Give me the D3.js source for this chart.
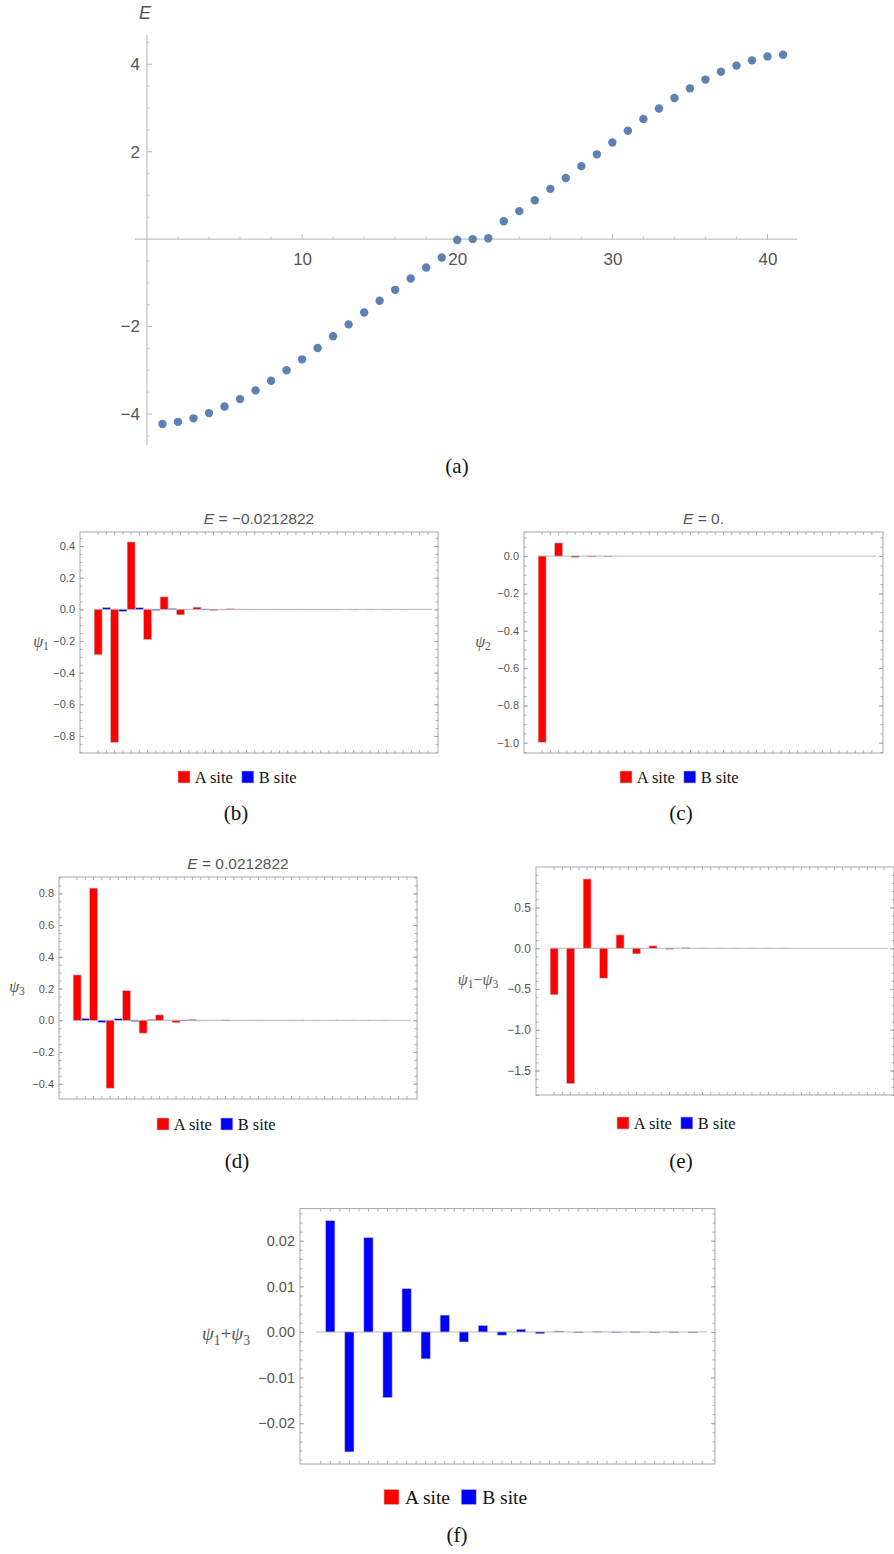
<!DOCTYPE html>
<html>
<head>
<meta charset="utf-8">
<script src="https://cdn.jsdelivr.net/npm/d3@7"></script>
<style>
  body { margin: 0; background: #fff; }
  svg { display: block; }
</style>
</head>
<body>
<svg id="fig" width="894" height="1554"></svg>
<script>
// ---- Spectrum of the 41-site chain (level index -> energy) ----
const levelIndex = [1,2,3,4,5,6,7,8,9,10,11,12,13,14,15,16,17,18,19,20,21,22,23,24,25,26,27,28,29,30,31,32,33,34,35,36,37,38,39,40,41];
const energies = [-4.23, -4.18, -4.10, -3.98, -3.83, -3.66, -3.46, -3.24, -3.00, -2.75,
                  -2.49, -2.22, -1.95, -1.68, -1.41, -1.16, -0.90, -0.65, -0.42, -0.0213,
                  0.0, 0.0213, 0.41, 0.64, 0.89, 1.15, 1.40, 1.67, 1.94, 2.21,
                  2.48, 2.75, 2.99, 3.23, 3.45, 3.65, 3.83, 3.97, 4.09, 4.18, 4.22];
const energyTicksX = [10, 20, 30, 40];
const energyTicksY = [-4, -2, 2, 4];

// ---- Zero-mode amplitudes: 21 A sites, 20 B sites ----
const psi1A = [-0.287, -0.841, 0.426, -0.190, 0.079, -0.035, 0.014, -0.007, 0.003, -0.0014, 0.0006,
               -0.0003, 0.0001, -0.00006, 0.00003, 0, 0, 0, 0, 0, 0];
const psi1B = [0.0122, -0.0132, 0.0104, -0.0072, 0.0047, -0.0029, 0.0019, -0.0011, 0.0007, -0.0004,
               0.0003, -0.0002, 0.0001, -0.00007, 0.00005, -0.00003, 0.00002, -0.00001, 0.00001, 0];
const psi2A = [-0.9975, 0.0705, -0.0066, 0.0006, -0.00005, 0, 0, 0, 0, 0, 0,
               0, 0, 0, 0, 0, 0, 0, 0, 0, 0];
const psi2B = [0, 0, 0, 0, 0, 0, 0, 0, 0, 0, 0, 0, 0, 0, 0, 0, 0, 0, 0, 0];
const psi3A = [0.286, 0.833, -0.428, 0.187, -0.081, 0.034, -0.015, 0.006, -0.003, 0.0013, -0.0005,
               0.0002, -0.0001, 0.00005, 0, 0, 0, 0, 0, 0, 0];
const psi3B = [0.0121, -0.0133, 0.0103, -0.0072, 0.0048, -0.0030, 0.0018, -0.0011, 0.0007, -0.0004,
               0.0003, -0.0002, 0.0001, -0.00008, 0.00005, -0.00003, 0.00002, -0.00001, 0.00001, 0];
const diffA = [-0.571, -1.661, 0.849, -0.367, 0.163, -0.069, 0.029, -0.012, 0.006, -0.0026, 0.0011,
               -0.0005, 0.0002, -0.0001, 0.00005, 0, 0, 0, 0, 0, 0];
const diffB = [0.0001, -0.0001, 0.0001, 0, 0, 0, 0, 0, 0, 0, 0, 0, 0, 0, 0, 0, 0, 0, 0, 0];
const sumA  = [0, 0, 0, 0, 0, 0, 0, 0, 0, 0, 0, 0, 0, 0, 0, 0, 0, 0, 0, 0, 0];
const sumB  = [0.0244, -0.0263, 0.0207, -0.0144, 0.0095, -0.0059, 0.0037, -0.0022, 0.0014, -0.0007,
               0.0006, -0.0004, 0.0002, -0.00015, 0.0001, -0.00005, 0.00004, -0.00002, 0.00002, -0.00001];

const siteNames = ["A site", "B site"];
const siteColors = ["#ff0000", "#0000ff"];

const SANS = "'Liberation Sans', Arial, sans-serif";
const SERIF = "'Liberation Serif', 'Times New Roman', serif";
const TEXT_GRAY = "#555";
const AXIS_GRAY = "#a8a8a8";

const svg = d3.select("#fig");

// ---------------- (a) energy spectrum ----------------
(function spectrum() {
  const g = svg.append("g");
  const x = d3.scaleLinear().domain([-0.77, 41.9]).range([135, 797]);
  const y = d3.scaleLinear().domain([-4.71, 4.67]).range([445, 35]);

  // minor ticks
  const xMinor = d3.range(2, 42, 2).filter(v => v % 10 !== 0);
  const yMinor = d3.range(-4.5, 4.6, 0.5).filter(v => Math.abs(v % 2) > 1e-6);

  const xAxis = g.append("g").attr("transform", `translate(0,${y(0)})`)
    .call(d3.axisBottom(x).tickValues(energyTicksX).tickSize(0).tickPadding(14)
      .tickFormat(d3.format("d")));
  xAxis.select(".domain").remove();
  xAxis.selectAll("text").attr("font-family", SANS).attr("font-size", 17).attr("fill", TEXT_GRAY);

  const yAxis = g.append("g").attr("transform", `translate(${x(0)},0)`)
    .call(d3.axisLeft(y).tickValues(energyTicksY).tickSize(0).tickPadding(7)
      .tickFormat(d3.format("d")));
  yAxis.select(".domain").remove();
  yAxis.selectAll("text").attr("font-family", SANS).attr("font-size", 17).attr("fill", TEXT_GRAY);

  // axis lines
  g.append("line").attr("x1", 135).attr("x2", 797).attr("y1", y(0)).attr("y2", y(0))
    .attr("stroke", "#b5b5b5").attr("stroke-width", 1);
  g.append("line").attr("x1", x(0)).attr("x2", x(0)).attr("y1", 35).attr("y2", 445)
    .attr("stroke", "#b5b5b5").attr("stroke-width", 1);

  // ticks on the axes
  g.selectAll(".xmaj").data(energyTicksX).join("line")
    .attr("x1", d => x(d)).attr("x2", d => x(d)).attr("y1", y(0)).attr("y2", y(0) - 5)
    .attr("stroke", "#b5b5b5");
  g.selectAll(".xmin").data(xMinor).join("line")
    .attr("x1", d => x(d)).attr("x2", d => x(d)).attr("y1", y(0)).attr("y2", y(0) - 2.5)
    .attr("stroke", "#c5c5c5");
  g.selectAll(".ymaj").data(energyTicksY).join("line")
    .attr("x1", x(0)).attr("x2", x(0) + 5).attr("y1", d => y(d)).attr("y2", d => y(d))
    .attr("stroke", "#b5b5b5");
  g.selectAll(".ymin").data(yMinor).join("line")
    .attr("x1", x(0)).attr("x2", x(0) + 2.5).attr("y1", d => y(d)).attr("y2", d => y(d))
    .attr("stroke", "#c5c5c5");

  g.append("text").attr("x", x(0) - 2).attr("y", 19).attr("text-anchor", "middle")
    .attr("font-family", SANS).attr("font-style", "italic").attr("font-size", 18)
    .attr("fill", TEXT_GRAY).text("E");

  g.selectAll("circle").data(levelIndex).join("circle")
    .attr("cx", d => x(d)).attr("cy", (d, i) => y(energies[i])).attr("r", 4.2)
    .attr("fill", "#5e81b5");
})();

// ---------------- bar panels ----------------
function addPsiLabel(g, parts, x, y, size) {
  // parts: array of [text, isSubscript]
  const t = g.append("text").attr("x", x).attr("y", y).attr("text-anchor", "middle")
    .attr("dominant-baseline", "middle")
    .attr("font-family", SERIF).attr("font-size", size).attr("fill", TEXT_GRAY);
  let wasSub = false;
  parts.forEach(([s, sub]) => {
    const ts = t.append("tspan").text(s);
    if (sub) {
      ts.attr("font-size", size * 0.72).attr("dy", size * 0.28);
    } else {
      ts.attr("font-style", s === "ψ" ? "italic" : "normal").attr("dy", wasSub ? -size * 0.28 : 0);
    }
    wasSub = sub;
  });
}

function barPanel(p) {
  const g = svg.append("g");
  const f = p.frame;

  // interleave A and B sites along the chain
  const sites = [];
  for (let k = 0; k < p.a.length + p.b.length; k++) {
    const isA = k % 2 === 0;
    sites.push({ k, type: isA ? 0 : 1, v: isA ? p.a[k / 2] : p.b[(k - 1) / 2] });
  }

  const x = d3.scaleBand().domain(sites.map(d => d.k)).range(p.bars).padding(0);
  const y = d3.scaleLinear().domain(p.yDomain).range([f.y1, f.y0]);

  // frame
  g.append("rect").attr("x", f.x0).attr("y", f.y0)
    .attr("width", f.x1 - f.x0).attr("height", f.y1 - f.y0)
    .attr("fill", "none").attr("stroke", AXIS_GRAY).attr("stroke-width", 1);

  const styleTicks = sel => {
    sel.select(".domain").remove();
    sel.selectAll("line").attr("stroke", "#9a9a9a").attr("stroke-width", 0.8);
  };

  // left: labelled major ticks + minor ticks
  const left = g.append("g").attr("transform", `translate(${f.x0},0)`)
    .call(d3.axisLeft(y).tickValues(p.ticks).tickSizeInner(-4).tickSizeOuter(0)
      .tickPadding(5).tickFormat(d3.format(p.fmt)));
  styleTicks(left);
  left.selectAll("text").attr("font-family", SANS).attr("font-size", p.tickFont).attr("fill", TEXT_GRAY);
  const leftMinor = g.append("g").attr("transform", `translate(${f.x0},0)`)
    .call(d3.axisLeft(y).tickValues(p.minor).tickSizeInner(-2.5).tickSizeOuter(0).tickFormat(""));
  styleTicks(leftMinor);

  // right frame ticks
  const right = g.append("g").attr("transform", `translate(${f.x1},0)`)
    .call(d3.axisRight(y).tickValues(p.ticks).tickSizeInner(-4).tickSizeOuter(0).tickFormat(""));
  styleTicks(right);
  const rightMinor = g.append("g").attr("transform", `translate(${f.x1},0)`)
    .call(d3.axisRight(y).tickValues(p.minor).tickSizeInner(-2.5).tickSizeOuter(0).tickFormat(""));
  styleTicks(rightMinor);

  // top and bottom ticks at every site
  const bottom = g.append("g").attr("transform", `translate(0,${f.y1})`)
    .call(d3.axisBottom(x).tickSizeInner(-3).tickSizeOuter(0).tickFormat(""));
  styleTicks(bottom);
  const top = g.append("g").attr("transform", `translate(0,${f.y0})`)
    .call(d3.axisTop(x).tickSizeInner(-3).tickSizeOuter(0).tickFormat(""));
  styleTicks(top);

  // zero baseline
  g.append("line").attr("x1", p.bars[0]).attr("x2", p.bars[1])
    .attr("y1", y(0)).attr("y2", y(0)).attr("stroke", "#b9b9b9").attr("stroke-width", 1);

  // bars
  g.selectAll(".bar").data(sites.filter(d => d.v !== 0)).join("rect")
    .attr("x", d => x(d.k) + 0.15)
    .attr("width", x.bandwidth() - 0.3)
    .attr("y", d => Math.min(y(d.v), y(0)))
    .attr("height", d => Math.max(Math.abs(y(d.v) - y(0)), 0.6))
    .attr("fill", d => siteColors[d.type])
    .attr("stroke", "#c4c4c4").attr("stroke-width", 0.6);

  // title
  if (p.title) {
    const t = g.append("text").attr("x", (f.x0 + f.x1) / 2).attr("y", f.y0 - 8)
      .attr("text-anchor", "middle").attr("font-family", SANS).attr("font-size", 15.5)
      .attr("fill", TEXT_GRAY);
    t.append("tspan").attr("font-style", "italic").text("E");
    t.append("tspan").text(" = " + p.title);
  }

  // axis label
  addPsiLabel(g, p.label, p.labelX, (f.y0 + f.y1) / 2, p.labelFont);

  // legend
  const lg = g.append("g").attr("transform", `translate(${p.legend[0]},${p.legend[1]})`);
  const s = p.legendSize;
  let cx = 0;
  siteNames.forEach((name, i) => {
    lg.append("rect").attr("x", cx).attr("y", -s / 2).attr("width", s).attr("height", s)
      .attr("fill", siteColors[i]).attr("stroke", "#c4c4c4").attr("stroke-width", 0.6);
    const txt = lg.append("text").attr("x", cx + s + s * 0.4).attr("y", 0)
      .attr("dominant-baseline", "central")
      .attr("font-family", SERIF).attr("font-size", p.legendFont).attr("fill", "#111").text(name);
    cx += s + s * 0.4 + txt.node().getComputedTextLength() + s * 0.75;
  });
}

const psi = n => [["ψ", false], [String(n), true]];

barPanel({
  frame: { x0: 80, x1: 438, y0: 532, y1: 753 }, bars: [94, 432],
  yDomain: [-0.908, 0.489], ticks: [-0.8, -0.6, -0.4, -0.2, 0, 0.2, 0.4],
  minor: d3.range(-0.9, 0.5, 0.05), fmt: ".1f", tickFont: 11,
  a: psi1A, b: psi1B, title: "\u22120.0212822",
  label: psi(1), labelX: 41, labelFont: 16,
  legend: [178, 777], legendSize: 12, legendFont: 16.5
});
barPanel({
  frame: { x0: 524, x1: 883, y0: 532, y1: 753 }, bars: [538, 876],
  yDomain: [-1.055, 0.129], ticks: [-1.0, -0.8, -0.6, -0.4, -0.2, 0],
  minor: d3.range(-1.05, 0.13, 0.05), fmt: ".1f", tickFont: 11,
  a: psi2A, b: psi2B, title: "0.",
  label: psi(2), labelX: 483, labelFont: 16,
  legend: [620, 777], legendSize: 12, legendFont: 16.5
});
barPanel({
  frame: { x0: 59, x1: 417, y0: 877, y1: 1099 }, bars: [73, 411],
  yDomain: [-0.496, 0.903], ticks: [-0.4, -0.2, 0, 0.2, 0.4, 0.6, 0.8],
  minor: d3.range(-0.45, 0.91, 0.05), fmt: ".1f", tickFont: 11,
  a: psi3A, b: psi3B, title: "0.0212822",
  label: psi(3), labelX: 17, labelFont: 16,
  legend: [157, 1124], legendSize: 12, legendFont: 16.5
});
barPanel({
  frame: { x0: 536, x1: 894, y0: 867, y1: 1095 }, bars: [550, 888],
  yDomain: [-1.80, 0.996], ticks: [-1.5, -1.0, -0.5, 0, 0.5],
  minor: d3.range(-1.8, 1.0, 0.1), fmt: ".1f", tickFont: 12,
  a: diffA, b: diffB, title: null,
  label: [["ψ", false], ["1", true], ["\u2212", false], ["ψ", false], ["3", true]],
  labelX: 478, labelFont: 16,
  legend: [617, 1123], legendSize: 12, legendFont: 16.5
});
barPanel({
  frame: { x0: 300, x1: 715, y0: 1208.6, y1: 1464 }, bars: [316, 707],
  yDomain: [-0.02895, 0.02705], ticks: [-0.02, -0.01, 0, 0.01, 0.02],
  minor: d3.range(-0.028, 0.027, 0.002), fmt: ".2f", tickFont: 14.5,
  a: sumA, b: sumB, title: null,
  label: [["ψ", false], ["1", true], ["+", false], ["ψ", false], ["3", true]],
  labelX: 226, labelFont: 19,
  legend: [384, 1497], legendSize: 15, legendFont: 19.5
});

// ---------------- sub-figure captions ----------------
const captions = [["(a)", 457, 466], ["(b)", 236, 813], ["(c)", 681, 813],
                  ["(d)", 237, 1161], ["(e)", 681, 1161], ["(f)", 457, 1535]];
svg.selectAll(".cap").data(captions).join("text")
  .attr("x", d => d[1]).attr("y", d => d[2]).attr("text-anchor", "middle")
  .attr("dominant-baseline", "central")
  .attr("font-family", SERIF).attr("font-size", 21).attr("fill", "#111")
  .text(d => d[0]);
</script>
</body>
</html>
